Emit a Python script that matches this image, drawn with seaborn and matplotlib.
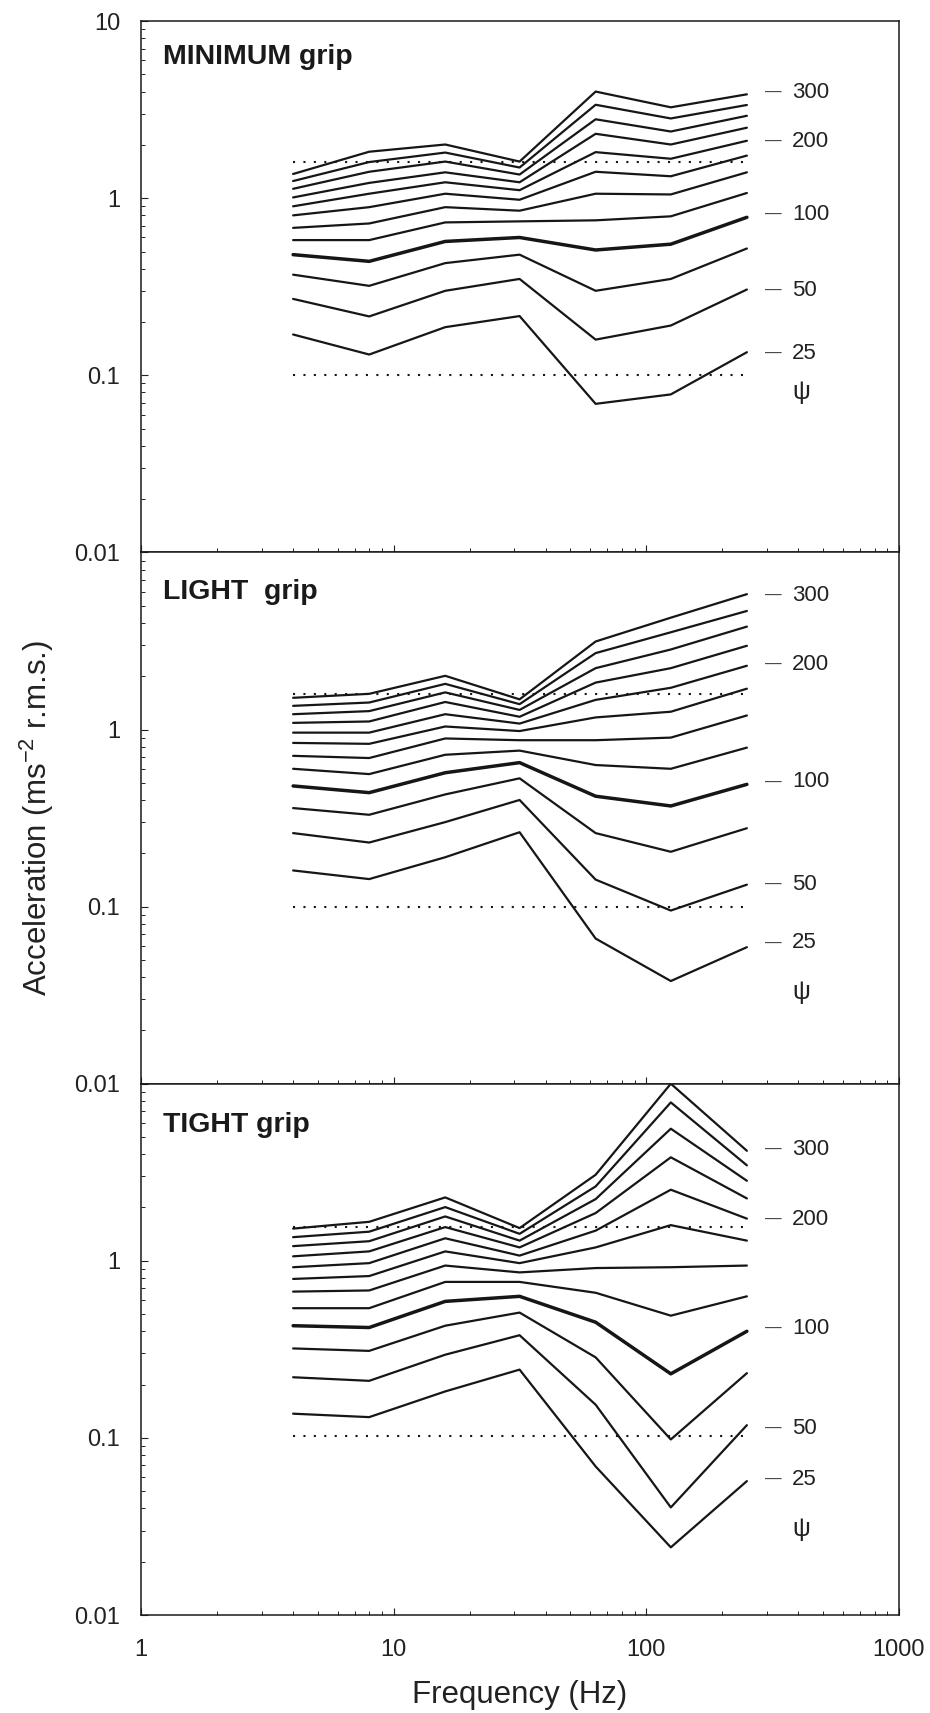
import numpy as np
import pandas as pd
import matplotlib
matplotlib.use("Agg")
import matplotlib.pyplot as plt
import seaborn as sns
from matplotlib.ticker import FixedLocator, LogLocator, NullFormatter

# ---------------- data ----------------
freqs = [4, 8, 16, 31.5, 63, 125, 250]

minimum_grip = [
    [1.37, 1.83, 2.01, 1.61, 4.00, 3.26, 3.86],
    [1.25, 1.60, 1.81, 1.49, 3.37, 2.82, 3.36],
    [1.13, 1.41, 1.61, 1.36, 2.79, 2.38, 2.92],
    [1.01, 1.22, 1.40, 1.23, 2.31, 2.01, 2.50],
    [0.90, 1.06, 1.23, 1.11, 1.82, 1.67, 2.11],
    [0.80, 0.89, 1.06, 0.98, 1.41, 1.33, 1.74],
    [0.68, 0.72, 0.89, 0.85, 1.06, 1.05, 1.40],
    [0.58, 0.58, 0.73, 0.74, 0.75, 0.79, 1.07],
    [0.48, 0.44, 0.57, 0.60, 0.51, 0.55, 0.78],
    [0.37, 0.32, 0.43, 0.48, 0.30, 0.35, 0.52],
    [0.27, 0.215, 0.30, 0.35, 0.159, 0.191, 0.305],
    [0.170, 0.131, 0.187, 0.216, 0.069, 0.078, 0.135],
]

light_grip = [
    [1.51, 1.59, 2.01, 1.48, 3.14, 4.28, 5.81],
    [1.36, 1.42, 1.81, 1.39, 2.70, 3.54, 4.67],
    [1.22, 1.27, 1.62, 1.29, 2.22, 2.83, 3.81],
    [1.09, 1.11, 1.43, 1.18, 1.84, 2.22, 2.97],
    [0.96, 0.96, 1.22, 1.08, 1.47, 1.72, 2.29],
    [0.84, 0.83, 1.04, 0.98, 1.17, 1.26, 1.70],
    [0.71, 0.69, 0.89, 0.87, 0.87, 0.90, 1.20],
    [0.60, 0.56, 0.72, 0.76, 0.63, 0.60, 0.79],
    [0.48, 0.44, 0.57, 0.65, 0.42, 0.37, 0.49],
    [0.36, 0.33, 0.43, 0.53, 0.26, 0.204, 0.277],
    [0.26, 0.23, 0.30, 0.40, 0.142, 0.095, 0.133],
    [0.160, 0.143, 0.190, 0.263, 0.066, 0.038, 0.059],
]

tight_grip = [
    [1.52, 1.66, 2.28, 1.53, 3.06, 10.0, 4.18],
    [1.36, 1.46, 2.01, 1.42, 2.63, 7.84, 3.46],
    [1.21, 1.29, 1.78, 1.30, 2.23, 5.57, 2.83],
    [1.06, 1.13, 1.55, 1.19, 1.86, 3.84, 2.25],
    [0.92, 0.97, 1.34, 1.07, 1.48, 2.52, 1.73],
    [0.79, 0.82, 1.13, 0.97, 1.19, 1.59, 1.30],
    [0.67, 0.68, 0.94, 0.86, 0.91, 0.92, 0.94],
    [0.54, 0.54, 0.76, 0.76, 0.66, 0.49, 0.63],
    [0.43, 0.42, 0.59, 0.63, 0.45, 0.23, 0.40],
    [0.32, 0.31, 0.43, 0.51, 0.285, 0.098, 0.232],
    [0.22, 0.21, 0.295, 0.38, 0.154, 0.0405, 0.118],
    [0.137, 0.131, 0.183, 0.243, 0.069, 0.0241, 0.057],
]

panel_titles = ["MINIMUM grip", "LIGHT  grip", "TIGHT grip"]
upper_threshold = [1.60, 1.59, 1.55]
lower_threshold = [0.100, 0.100, 0.103]

curve_labels = ["300", "200", "100", "50", "25"]
curve_label_values = [
    [3.94, 2.09, 0.807, 0.302, 0.1324],
    [5.73, 2.32, 0.506, 0.133, 0.0624],
    [4.24, 1.715, 0.414, 0.1133, 0.0582],
]
psi_values = [0.080, 0.0331, 0.0307]

thick_index = 8
y_ticks = [0.01, 0.1, 1, 10]
x_ticks = [1, 10, 100, 1000]

# ---------------- style ----------------
sns.set_theme(style="ticks")
plt.rcParams["font.family"] = ["Liberation Sans", "DejaVu Sans"]
plt.rcParams["mathtext.fontset"] = "custom"
plt.rcParams["mathtext.rm"] = "Liberation Sans"
plt.rcParams["mathtext.it"] = "Liberation Sans:italic"
plt.rcParams["mathtext.bf"] = "Liberation Sans:bold"

W, H = 930, 1713
fig = plt.figure(figsize=(W / 100, H / 100), dpi=100)

left = 141 / W
width = (899 - 141) / W
ph = 531.3 / H
bottom0 = (H - 1615) / H
title_y = [0.9575, 0.950, 0.946]

datasets = [minimum_grip, light_grip, tight_grip]
line_color = "#161616"

for i, data in enumerate(datasets):
    b = bottom0 + (2 - i) * ph
    ax = fig.add_axes([left, b, width, ph])
    ax.set_xscale("log")
    ax.set_yscale("log")

    for j, series in enumerate(data):
        df = pd.DataFrame({"freq": freqs, "acc": series})
        sns.lineplot(data=df, x="freq", y="acc", ax=ax, color=line_color,
                     linewidth=2.5 if j == thick_index else 1.6,
                     estimator=None, sort=False, legend=False)

    # threshold dotted lines
    for thr in (upper_threshold[i], lower_threshold[i]):
        df = pd.DataFrame({"freq": [freqs[0], freqs[-1]], "acc": [thr, thr]})
        sns.lineplot(data=df, x="freq", y="acc", ax=ax, color=line_color,
                     linewidth=1.5, linestyle=(0, (1, 4)), estimator=None,
                     legend=False)

    ax.set_xlim(1, 1000)
    ax.set_ylim(0.01, 10)

    # labels on the right of curves
    for lab, val in zip(curve_labels, curve_label_values[i]):
        ax.text(295, val, "\u2014", fontsize=12, color="#444444",
                va="center", ha="left")
        ax.text(377, val, lab, fontsize=16, color="#222222",
                va="center", ha="left")
    ax.text(380, psi_values[i], "\u03c8", fontsize=18, color="#222222",
            va="center", ha="left")

    ax.text(0.029, title_y[i], panel_titles[i], transform=ax.transAxes,
            fontsize=20.5, fontweight="bold", color="#1a1a1a",
            va="top", ha="left")

    # ticks
    ax.yaxis.set_major_locator(FixedLocator(y_ticks))
    if i == 0:
        ax.set_yticklabels(["0.01", "0.1", "1", "10"])
    else:
        ax.set_yticklabels(["0.01", "0.1", "1", ""])
    ax.yaxis.set_minor_locator(LogLocator(base=10, subs=np.arange(2, 10)))
    ax.yaxis.set_minor_formatter(NullFormatter())
    ax.xaxis.set_major_locator(FixedLocator(x_ticks))
    ax.set_xticklabels(["1", "10", "100", "1000"])
    ax.xaxis.set_minor_locator(LogLocator(base=10, subs=np.arange(2, 10)))
    ax.xaxis.set_minor_formatter(NullFormatter())

    ax.tick_params(axis="both", which="major", direction="in", length=5,
                   width=0.8, color="#222222", labelsize=17,
                   labelcolor="#222222")
    ax.tick_params(axis="both", which="minor", direction="in", length=3,
                   width=0.7, color="#222222")
    ax.tick_params(axis="y", which="major", pad=15)
    ax.tick_params(axis="x", which="major", pad=17,
                   labelbottom=(i == 2))
    ax.tick_params(top=False, right=False, which="both")

    for s in ax.spines.values():
        s.set_visible(True)
        s.set_linewidth(1.1)
        s.set_color("#1a1a1a")

    ax.set_xlabel("")
    ax.set_ylabel("")
    ax.set_facecolor("white")

fig.text(0.040, 1 - 818 / H, "Acceleration (ms$^{-2}$ r.m.s.)", rotation=90,
         fontsize=22.5, color="#222222", ha="center", va="center")
fig.text(520 / W, (H - 1703) / H, "Frequency (Hz)", fontsize=22.5,
         color="#222222", ha="center", va="baseline")

fig.savefig("out.png", dpi=100, facecolor="white")
